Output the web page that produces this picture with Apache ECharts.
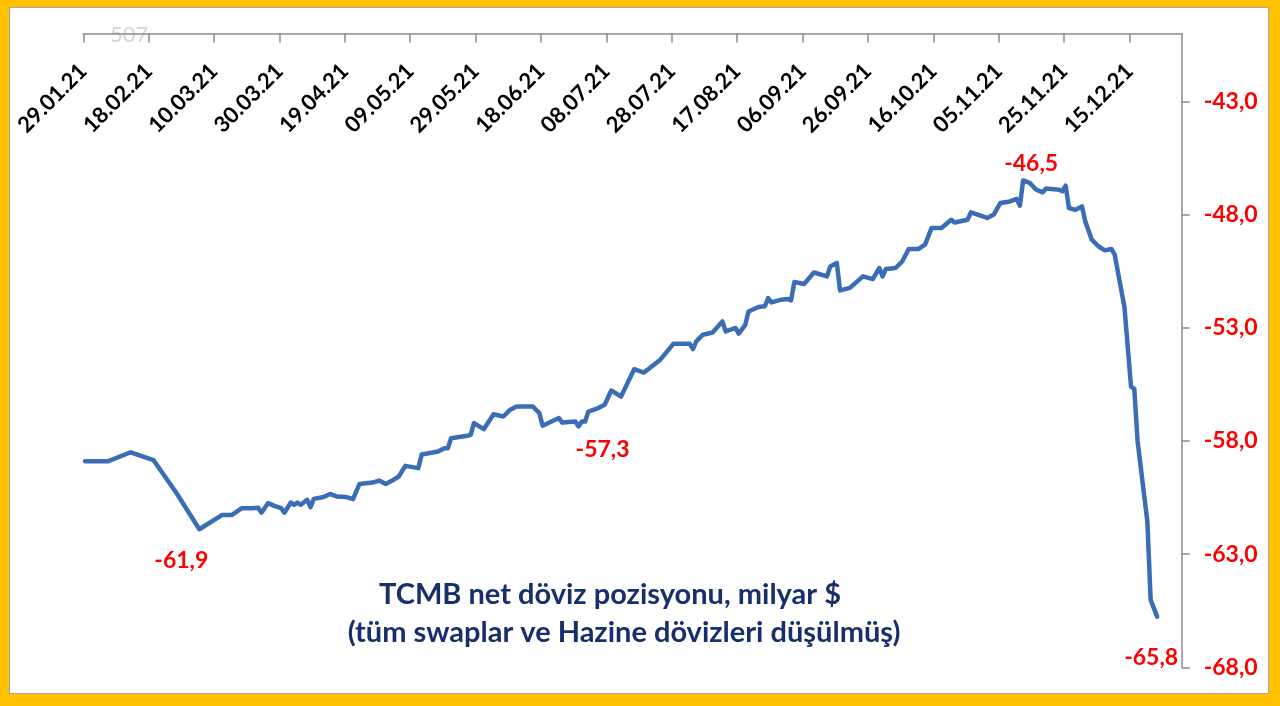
<!DOCTYPE html>
<html>
<head>
<meta charset="utf-8">
<script src="https://cdn.jsdelivr.net/npm/echarts@6/dist/echarts.min.js"></script>
<style>
  html, body { margin: 0; padding: 0; width: 1280px; height: 706px; background: #FFC000; overflow: hidden; }
  #frame { position: absolute; left: 9px; top: 7px; width: 1258px; height: 685px; background: #fff; border: 1.5px solid #a6a6a6; }
  #chart { position: absolute; left: 0; top: 0; width: 1280px; height: 706px; }
</style>
</head>
<body>
<div id="frame"></div>
<div id="chart"></div>
<script>
// ---- data (year 2021) ----
const tickLabels = ['29.01.21','18.02.21','10.03.21','30.03.21','19.04.21','09.05.21','29.05.21','18.06.21',
  '08.07.21','28.07.21','17.08.21','06.09.21','26.09.21','16.10.21','05.11.21','25.11.21','15.12.21'];
const yTickValues = [-68, -63, -58, -53, -48, -43];

const dates = [
  '29.01','05.02','12.02','19.02','26.02','05.03','12.03','15.03','18.03','21.03','23.03','24.03','26.03','28.03','30.03','31.03',
  '02.04','03.04','04.04','05.04','07.04','08.04','09.04','12.04','14.04','16.04','19.04','21.04','23.04','27.04','29.04',
  '01.05','03.05','05.05','07.05','11.05','12.05','17.05','19.05','20.05','21.05','26.05','27.05','28.05','31.05',
  '03.06','06.06','08.06','10.06','15.06','17.06','18.06','23.06','24.06','28.06','29.06','30.06',
  '01.07','02.07','05.07','07.07','09.07','12.07','16.07','19.07','24.07','28.07',
  '02.08','03.08','04.08','06.08','09.08','12.08','13.08','16.08','17.08','19.08','20.08','23.08','25.08','26.08','27.08','30.08',
  '01.09','02.09','03.09','06.09','09.09','13.09','14.09','16.09','17.09','20.09','24.09','27.09','29.09','30.09',
  '01.10','04.10','06.10','08.10','11.10','13.10','15.10','18.10','21.10','22.10','26.10','27.10',
  '01.11','03.11','05.11','08.11','10.11','11.11','12.11','14.11','16.11','18.11','19.11','23.11','24.11','25.11','26.11','28.11','30.11',
  '01.12','03.12','05.12','07.12','09.12','10.12','13.12','15.12','16.12','17.12','20.12','21.12','23.12'
];
const values = [
  -58.9,-58.9,-58.5,-58.85,-60.3,-61.9,-61.27,-61.27,-60.97,-60.97,-60.95,-61.17,-60.75,-60.87,-60.97,-61.17,
  -60.72,-60.82,-60.72,-60.82,-60.6,-60.93,-60.56,-60.48,-60.34,-60.45,-60.48,-60.57,-59.9,-59.84,-59.75,
  -59.9,-59.75,-59.57,-59.1,-59.2,-58.6,-58.47,-58.32,-58.32,-57.88,-57.77,-57.73,-57.21,-57.48,
  -56.82,-56.92,-56.63,-56.48,-56.48,-56.77,-57.33,-56.99,-57.19,-57.14,-57.36,-57.14,
  -57.14,-56.7,-56.55,-56.4,-55.77,-56.04,-54.83,-54.98,-54.41,-53.71,
  -53.71,-53.94,-53.6,-53.31,-53.21,-52.72,-53.16,-53.01,-53.26,-52.87,-52.28,-52.08,-52.05,-51.69,-51.88,-51.76,
  -51.73,-51.79,-50.98,-51.07,-50.56,-50.73,-50.29,-50.14,-51.35,-51.24,-50.73,-50.85,-50.36,-50.73,
  -50.4,-50.36,-50.07,-49.52,-49.52,-49.33,-48.59,-48.59,-48.23,-48.35,-48.23,-47.9,
  -48.15,-48.0,-47.49,-47.42,-47.31,-47.61,-46.49,-46.6,-46.9,-47.02,-46.85,-46.9,-46.97,-46.72,-47.71,-47.79,-47.64,
  -48.3,-49.11,-49.4,-49.58,-49.52,-49.77,-52.1,-55.6,-55.7,-58.0,-61.56,-65.02,-65.76
];
const annotDates = ['05.03', '29.06', '12.11', '23.12'];
const annotTexts = ['-61,9', '-57,3', '-46,5', '-65,8'];
const titleLines = ['TCMB net döviz pozisyonu, milyar $', '(tüm swaplar ve Hazine dövizleri düşülmüş)'];

// ---- helpers ----
const base = Date.UTC(2021, 0, 29);
function dayOffset(s) {
  const p = s.split('.').map(Number);
  return Math.round((Date.UTC(2021, p[1] - 1, p[0]) - base) / 86400000);
}
const tickPos = tickLabels.map(dayOffset);
const labelMap = {};
tickPos.forEach((p, i) => { labelMap[p] = tickLabels[i]; });
// points sit in the middle of their day band (date axis, between tick marks)
const seriesData = dates.map((d, i) => [dayOffset(d) + 0.5, values[i]]);

const annotOffsets = [[-18, 31], [24, 23], [8, -17], [-6, 41]];
const markData = annotDates.map((d, i) => {
  const idx = dates.indexOf(d);
  return {
    coord: seriesData[idx],
    value: annotTexts[i],
    label: { offset: annotOffsets[i] }
  };
});

const FONT = 'Lato';
const chart = echarts.init(document.getElementById('chart'), null, { renderer: 'canvas' });
chart.setOption({
  backgroundColor: 'transparent',
  animation: false,
  grid: { left: 83.3, right: 98.3, top: 33.5, bottom: 38.7, containLabel: false },
  xAxis: {
    type: 'value', position: 'top', min: 0, max: 336,
    axisLine: { show: true, onZero: false, lineStyle: { color: '#8c8c8c', width: 1.5 } },
    axisTick: { show: true, inside: true, length: 9, customValues: tickPos, lineStyle: { color: '#8c8c8c', width: 1.5 } },
    axisLabel: {
      inside: true, rotate: -45, margin: 34, customValues: tickPos,
      formatter: v => labelMap[v] || '',
      color: '#000', fontWeight: 'bold', fontSize: 22, fontFamily: FONT
    },
    splitLine: { show: false }
  },
  yAxis: {
    type: 'value', position: 'right', min: -68, max: -40,
    axisLine: { show: true, onZero: false, lineStyle: { color: '#8c8c8c', width: 1.5 } },
    axisTick: { show: true, length: 8, customValues: yTickValues, lineStyle: { color: '#8c8c8c', width: 1.5 } },
    axisLabel: {
      customValues: yTickValues, margin: 22,
      formatter: v => v.toFixed(1).replace('.', ','),
      color: '#ff0000', fontWeight: 'bold', fontSize: 23, fontFamily: FONT
    },
    splitLine: { show: false }
  },
  graphic: [
    { type: 'text', left: 110, top: 24, style: { text: '507', fill: '#d4d4d4', font: '22px ' + FONT } },
    { type: 'text', x: 610, y: 595, style: { text: titleLines[0], fill: '#172f6a', font: 'bold 29px ' + FONT, textAlign: 'center', textVerticalAlign: 'middle' } },
    { type: 'text', x: 624, y: 633, style: { text: titleLines[1], fill: '#172f6a', font: 'bold 29px ' + FONT, textAlign: 'center', textVerticalAlign: 'middle' } }
  ],
  series: [{
    type: 'line',
    data: seriesData,
    showSymbol: false,
    lineStyle: { color: '#3a6db5', width: 4.5, cap: 'round', join: 'round' },
    markPoint: {
      symbol: 'circle', symbolSize: 1,
      itemStyle: { color: 'rgba(0,0,0,0)' },
      label: {
        show: true, position: 'inside',
        formatter: p => p.value,
        color: '#ff0000', fontWeight: 'bold', fontSize: 23, fontFamily: FONT
      },
      data: markData
    }
  }]
});
</script>
</body>
</html>
